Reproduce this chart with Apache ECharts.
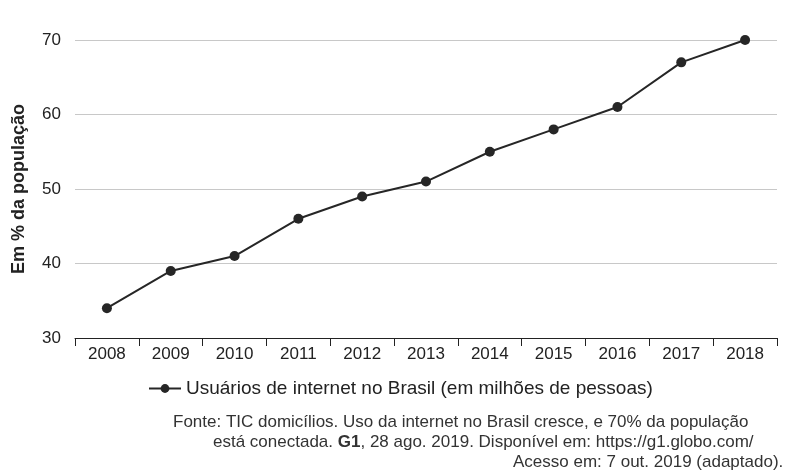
<!DOCTYPE html>
<html><head><meta charset="utf-8">
<script src="https://cdn.jsdelivr.net/npm/echarts@6/dist/echarts.min.js"></script>
<style>html,body{margin:0;padding:0;background:#fff}#c{width:791px;height:474px}</style>
</head><body><div id="c"></div>
<script>
const years=['2008','2009','2010','2011','2012','2013','2014','2015','2016','2017','2018'];
const values=[34,39,41,46,49,51,55,58,61,67,70];
const seriesName='Usuários de internet no Brasil (em milhões de pessoas)';
const ch=echarts.init(document.getElementById('c'));
const F='"Liberation Sans", Arial, sans-serif';
ch.setOption({
 animation:false,
 textStyle:{fontFamily:F},
 grid:{left:75,right:14,top:40,bottom:136},
 legend:{top:374,left:143,itemWidth:32,itemHeight:11,itemGap:4,textStyle:{fontSize:19,color:'#222',fontFamily:F},data:[seriesName]},
 xAxis:{type:'category',data:years,boundaryGap:true,
  axisLine:{lineStyle:{color:'#222'}},axisTick:{show:true,length:8,lineStyle:{color:'#222'}},
  axisLabel:{fontSize:17,color:'#222',margin:8,fontFamily:F}},
 yAxis:{type:'value',min:30,max:70,interval:10,
  name:'Em % da população',nameLocation:'middle',nameGap:47,nameTextStyle:{fontSize:18,fontWeight:'bold',color:'#222',fontFamily:F},
  axisLabel:{fontSize:17,color:'#222',margin:14,fontFamily:F},
  splitLine:{lineStyle:{color:'#c8c8c8'}},axisLine:{show:false},axisTick:{show:false}},
 series:[{type:'line',name:seriesName,data:values,symbol:'circle',symbolSize:10,
  lineStyle:{color:'#262626',width:2},itemStyle:{color:'#262626'}}],
 graphic:[
  {type:'text',left:173,top:414,style:{text:'Fonte: TIC domicílios. Uso da internet no Brasil cresce, e 70% da população',fontSize:17,fill:'#333',fontFamily:F}},
  {type:'text',left:213,top:434,style:{text:'está conectada. {b|G1}, 28 ago. 2019. Disponível em: https://g1.globo.com/',fontSize:17,fill:'#333',fontFamily:F,rich:{b:{fontWeight:'bold',fontSize:17,fill:'#333',fontFamily:F}}}},
  {type:'text',left:513,top:454,style:{text:'Acesso em: 7 out. 2019 (adaptado).',fontSize:17,fill:'#333',fontFamily:F}}
 ]
});
</script></body></html>
